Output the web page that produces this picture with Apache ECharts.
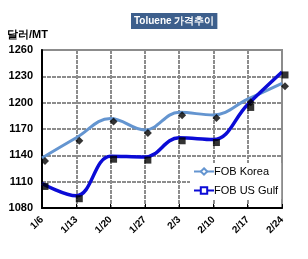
<!DOCTYPE html>
<html><head><meta charset="utf-8">
<script src="https://cdn.jsdelivr.net/npm/echarts@6/dist/echarts.min.js"></script>
<style>html,body{margin:0;padding:0;background:#fff}#c{width:308px;height:259px}</style>
</head><body><div id="c"></div>
<script>
const categories = ['1/6','1/13','1/20','1/27','2/3','2/10','2/17','2/24'];
const fobKorea = [1137, 1160, 1182, 1169, 1189, 1186, 1204, 1222];
const fobUsGulf = [1108, 1094, 1139, 1138, 1160, 1158, 1198, 1235];
const yTicks = {min: 1080, max: 1260, interval: 30};

const chart = echarts.init(document.getElementById('c'));
const font = '"Liberation Sans", Arial, sans-serif';
chart.setOption({
  animation: false,
  textStyle: {fontFamily: font},
  title: {
    text: 'Toluene 가격추이', left: 131, top: 13,
    backgroundColor: '#3d5f8c', padding: [3, 3, 3, 3],
    textStyle: {color: '#fff', fontSize: 10, fontWeight: 'bold', fontFamily: font}
  },
  grid: {left: 42, top: 50, right: 26, bottom: 51, show: true, borderColor: '#8c8c8c', borderWidth: 2},
  legend: {
    data: ['FOB Korea', 'FOB US Gulf'], orient: 'vertical', left: 190, top: 163,
    backgroundColor: '#fff', padding: [3, 3, 3, 3], itemWidth: 20, itemHeight: 8, itemGap: 8,
    textStyle: {fontSize: 11, color: '#000', fontFamily: font, padding: [0, 0, 0, -5]}
  },
  xAxis: {
    type: 'category', data: categories, boundaryGap: false,
    axisLine: {lineStyle: {color: '#000', width: 2}},
    axisTick: {show: true, inside: true, length: 4, lineStyle: {color: '#000', width: 1}},
    axisLabel: {rotate: 45, fontSize: 10, fontWeight: 'bold', color: '#000', margin: 10},
    splitLine: {show: true, lineStyle: {color: '#8c8c8c', width: 2, type: [4, 1]}}
  },
  yAxis: {
    type: 'value', min: yTicks.min, max: yTicks.max, interval: yTicks.interval,
    name: '달러/MT', nameLocation: 'end', nameGap: 10,
    nameTextStyle: {fontSize: 11, fontWeight: 'bold', color: '#000', align: 'right', padding: [0, -6, 0, 0]},
    axisLine: {show: true, lineStyle: {color: '#000', width: 2}},
    axisTick: {show: false},
    axisLabel: {fontSize: 11, fontWeight: 'bold', color: '#000', margin: 9, formatter: v => String(v)},
    splitLine: {show: true, lineStyle: {color: '#8c8c8c', width: 2, type: [4, 1]}}
  },
  series: [
    {name: 'FOB Korea', type: 'line', data: fobKorea, smooth: 0.4, symbol: 'emptyDiamond', symbolSize: 7, showSymbol: false,
     lineStyle: {color: '#6495d0', width: 3}, itemStyle: {color: '#6495d0'}, z: 3},
    {name: 'FOB US Gulf', type: 'line', data: fobUsGulf, smooth: 0.4, symbol: 'emptyRect', symbolSize: 7, showSymbol: false,
     lineStyle: {color: '#0b0bd6', width: 3.5}, itemStyle: {color: '#0b0bd6'}, z: 3},
    {name: 'Korea pts', type: 'scatter', data: fobKorea, symbol: 'diamond', symbolSize: 8, symbolOffset: [3, 3],
     itemStyle: {color: '#000'}, z: 4},
    {name: 'Gulf pts', type: 'scatter', data: fobUsGulf, symbol: 'rect', symbolSize: 7, symbolOffset: [3, 3],
     itemStyle: {color: '#000'}, z: 4}
  ]
});
</script></body></html>
